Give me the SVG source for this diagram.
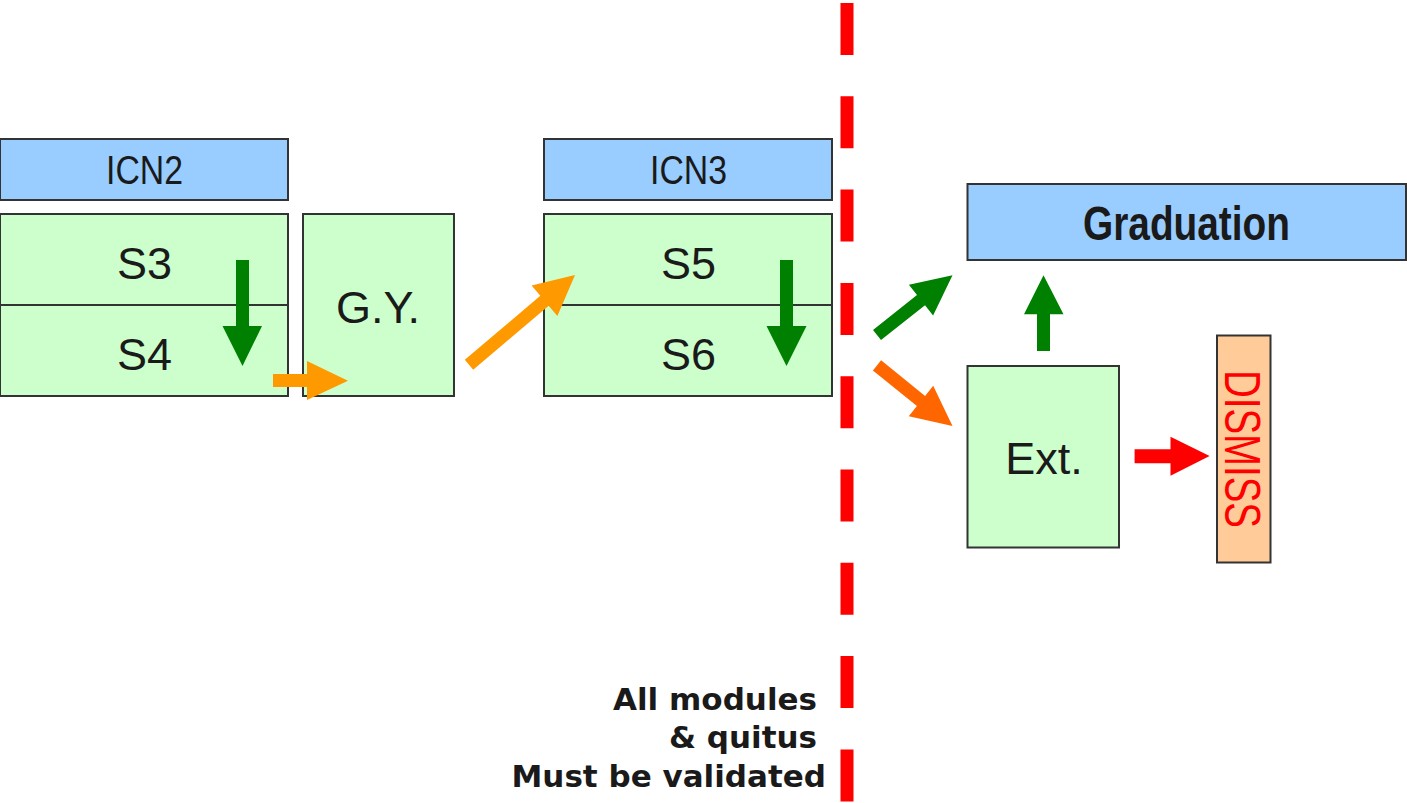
<svg xmlns="http://www.w3.org/2000/svg" width="1407" height="803" viewBox="0 0 1407 803">
<style>
.box{stroke:#333333;stroke-width:2}
.blue{fill:#99ccff}
.green{fill:#ccffcc}
.peach{fill:#ffcc99}
.t{font-family:"Liberation Sans",Arial,sans-serif;fill:#1a1a1a;text-anchor:middle}
.n{font-family:"Liberation Sans Narrow","Arial Narrow","Liberation Sans",sans-serif;fill:#1a1a1a;text-anchor:middle}
.note{font-family:"DejaVu Sans",Verdana,sans-serif;font-weight:bold;font-size:31px;fill:#1a1a1a;text-anchor:end}
</style>
<rect width="1407" height="803" fill="#ffffff"/>
<g id="icn2">
<rect class="box blue" x="0" y="139" width="288" height="61"/>
<text class="n" x="144.5" y="184" font-size="40" textLength="77" lengthAdjust="spacingAndGlyphs">ICN2</text>
</g>
<g id="s3s4">
<rect class="box green" x="0" y="214" width="288" height="182"/>
<line x1="0" y1="305" x2="288" y2="305" stroke="#333333" stroke-width="2"/>
<text class="t" x="144.5" y="279" font-size="45">S3</text>
<text class="t" x="144.5" y="370" font-size="45">S4</text>
</g>
<g id="gy">
<rect class="box green" x="303" y="214" width="151" height="182"/>
<text class="t" x="378" y="323" font-size="45">G.Y.</text>
</g>
<g id="icn3">
<rect class="box blue" x="544" y="139" width="288" height="61"/>
<text class="n" x="688.5" y="184" font-size="40" textLength="77" lengthAdjust="spacingAndGlyphs">ICN3</text>
</g>
<g id="s5s6">
<rect class="box green" x="544" y="214" width="288" height="182"/>
<line x1="544" y1="305" x2="832" y2="305" stroke="#333333" stroke-width="2"/>
<text class="t" x="688.5" y="278.5" font-size="45">S5</text>
<text class="t" x="688.5" y="369.5" font-size="45">S6</text>
</g>
<g id="graduation">
<rect class="box blue" x="967.5" y="184" width="438.5" height="76"/>
<text class="n" x="1186.5" y="240" font-size="48" font-weight="bold" textLength="207" lengthAdjust="spacingAndGlyphs">Graduation</text>
</g>
<g id="ext">
<rect class="box green" x="967.5" y="366" width="151.5" height="181.5"/>
<text class="t" x="1044" y="474" font-size="45">Ext.</text>
</g>
<g id="dismiss">
<rect class="box peach" x="1217" y="335.5" width="53.5" height="227"/>
<text class="n" transform="translate(1225,449) rotate(90)" x="0" y="0" font-size="50" textLength="158" lengthAdjust="spacingAndGlyphs" style="fill:#ff0000">DISMISS</text>
</g>
<g id="divider">
<line x1="847" y1="3" x2="847" y2="803" stroke="#ff0000" stroke-width="13" stroke-dasharray="52 41.3"/>
</g>
<g id="note">
<text class="note" x="817" y="710">All modules</text>
<text class="note" x="817" y="748">&amp; quitus</text>
<text class="note" x="826" y="787">Must be validated</text>
</g>
<g id="connectors">
<polygon fill="#008000" points="236,260 249,260 249,326 262,326 242.5,366 222.5,326 236,326"/>
<polygon fill="#ff9900" points="273,374 307,374 307,361 348,380.7 307,400 307,387 273,387"/>
<polygon fill="#ff9900" points="464.8,359.7 540.3,295.8 531.6,285.5 575,275 557.4,316.1 548.7,305.8 473.2,369.7"/>
<polygon fill="#008000" points="780,260 793,260 793,326 806.5,326 786.5,366 766.5,326 780,326"/>
<polygon fill="#008000" points="873,329.9 917,295 908.9,284.8 952.5,275.3 933.1,315.4 925,305.2 881,340.1"/>
<polygon fill="#ff6600" points="881.1,360.2 925.1,395.9 933.2,385.8 952.5,426 908.8,416.2 916.9,406.1 872.9,370.4"/>
<polygon fill="#008000" points="1037,351 1037,314.3 1024,314.3 1043.5,275.3 1063.5,314.3 1050,314.3 1050,351"/>
<polygon fill="#ff0000" points="1134.6,449.3 1170.5,449.3 1170.5,436.7 1209.6,456 1170.5,475.7 1170.5,463.3 1134.6,463.3"/>
</g>
</svg>
